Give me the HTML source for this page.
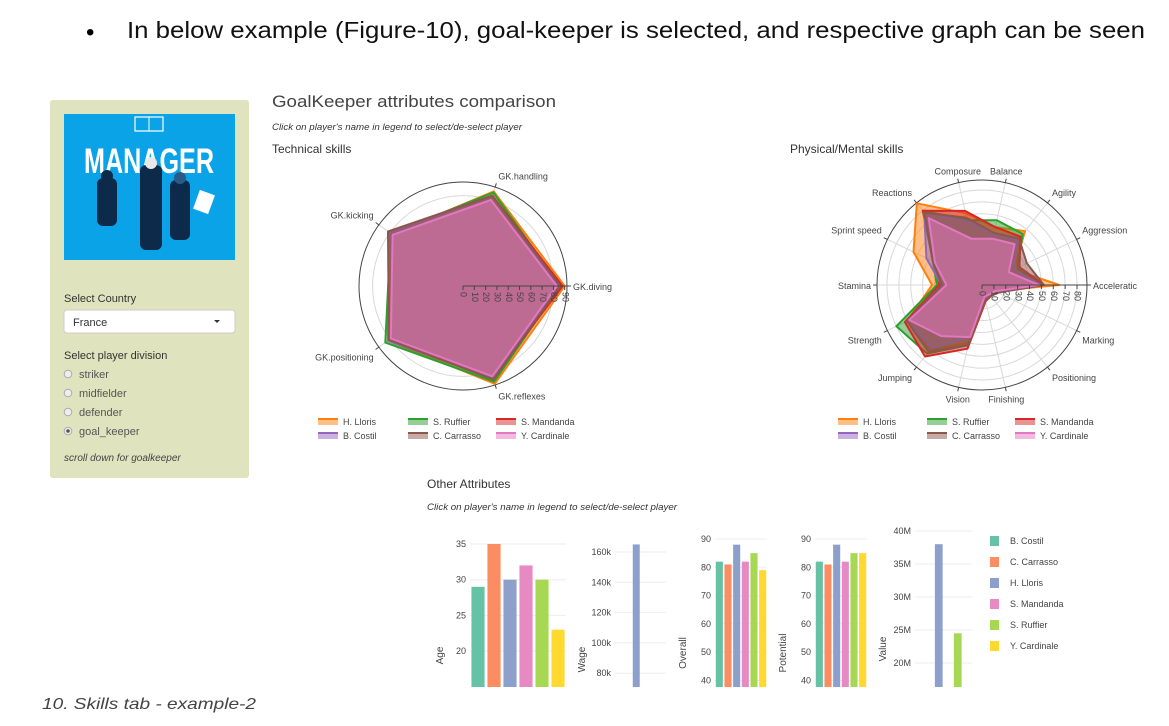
<!DOCTYPE html>
<html><head><meta charset="utf-8"><style>
html,body{margin:0;padding:0;background:#fff;}
svg{display:block;font-family:"Liberation Sans",sans-serif;}
</style></head><body>
<svg id="page" width="1169" height="726" viewBox="0 0 1169 726" xmlns="http://www.w3.org/2000/svg">
<text x="86" y="40" font-size="24" fill="#000">•</text>
<text x="127" y="38" font-size="23" fill="#111" textLength="1018" lengthAdjust="spacingAndGlyphs">In below example (Figure-10), goal-keeper is selected, and respective graph can be seen</text>

<g>
<rect x="50" y="100" width="199" height="378" rx="3" fill="#e0e4be"/>
<rect x="64" y="114" width="171" height="146" fill="#0aa3e8"/>
<rect x="135" y="117" width="28" height="14" fill="none" stroke="#fff" stroke-width="1.2"/>
<line x1="149" y1="117" x2="149" y2="131" stroke="#fff"/>
<text x="149" y="173" font-size="35" font-weight="bold" fill="#fff" text-anchor="middle" textLength="130" lengthAdjust="spacingAndGlyphs">MANAGER</text>
<g fill="#0d2a4a">
<rect x="97" y="178" width="20" height="48" rx="6"/><rect x="140" y="165" width="22" height="85" rx="6"/><rect x="170" y="180" width="20" height="60" rx="6"/>
<circle cx="107" cy="176" r="6"/><circle cx="151" cy="163" r="6" fill="#e8e8e8"/><circle cx="180" cy="178" r="6" fill="#2a5a8a"/>
</g>
<rect x="196" y="192" width="16" height="20" fill="#fff" transform="rotate(20 204 202)"/>
<text x="64" y="302" font-size="11" fill="#333">Select Country</text>
<rect x="64" y="310" width="171" height="23" rx="3" fill="#fff" stroke="#ccc"/>
<text x="73" y="326" font-size="11" fill="#333">France</text>
<path d="M214 320 l6 0 l-3 3 z" fill="#333"/>
<text x="64" y="359" font-size="11" fill="#333">Select player division</text>
<g font-size="11" fill="#555">
<circle cx="68" cy="374" r="3.8" fill="#eee" stroke="#aaa"/><text x="79" y="378">striker</text>
<circle cx="68" cy="393" r="3.8" fill="#eee" stroke="#aaa"/><text x="79" y="397">midfielder</text>
<circle cx="68" cy="412" r="3.8" fill="#eee" stroke="#aaa"/><text x="79" y="416">defender</text>
<circle cx="68" cy="431" r="3.8" fill="#eee" stroke="#aaa"/><circle cx="68" cy="431" r="1.8" fill="#555"/><text x="79" y="435">goal_keeper</text>
</g>
<text x="64" y="461" font-size="10" font-style="italic" fill="#444">scroll down for goalkeeper</text>
</g>

<text x="272" y="107" font-size="17" fill="#444" textLength="284" lengthAdjust="spacingAndGlyphs">GoalKeeper attributes comparison</text>
<text x="272" y="130" font-size="9" font-style="italic" fill="#333" textLength="250" lengthAdjust="spacingAndGlyphs">Click on player's name in legend to select/de-select player</text>
<text x="272" y="153" font-size="12" fill="#333">Technical skills</text>
<text x="790" y="153" font-size="12" fill="#333">Physical/Mental skills</text>
<text x="427" y="488" font-size="12" fill="#333">Other Attributes</text>
<text x="427" y="510" font-size="9" font-style="italic" fill="#333" textLength="250" lengthAdjust="spacingAndGlyphs">Click on player's name in legend to select/de-select player</text>
<text x="42" y="709" font-size="16" font-style="italic" fill="#444" textLength="214" lengthAdjust="spacingAndGlyphs">10. Skills tab - example-2</text>
<g id="charts"></g>
</svg>
<script>
const players = ["H. Lloris","S. Ruffier","S. Mandanda","B. Costil","C. Carrasso","Y. Cardinale"];
const playerColors = ["#ff7f0e","#2ca02c","#d62728","#9467bd","#8c564b","#e377c2"];
const techAxes = ["GK.diving","GK.handling","GK.kicking","GK.positioning","GK.reflexes"];
const techLloris = [90,88,78,82,91];
const techRuffier = [86,87,79,85,89];
const techMandanda = [88,84,80,82,86];
const techCostil = [84,84,80,82,86];
const techCarrasso = [86,84,82,81,87];
const techCardinale = [83,80,77,79,84];
const physAxes = ["Acceleratic","Aggression","Agility","Balance","Composure","Reactions","Sprint speed","Stamina","Strength","Jumping","Vision","Finishing","Positioning","Marking"];
const physLloris = [65,30,58,50,62,88,64,42,70,70,50,13,11,12];
const physRuffier = [50,33,55,56,56,80,46,38,80,74,52,12,12,14];
const physMandanda = [52,35,52,50,64,80,44,36,72,77,55,14,12,13];
const physCostil = [50,30,48,44,55,78,52,34,70,68,45,12,11,12];
const physCarrasso = [52,42,50,45,58,78,46,34,70,72,52,13,12,15];
const physCardinale = [48,25,44,40,40,72,44,30,68,55,45,10,10,12];
const barPlayers = ["B. Costil","C. Carrasso","H. Lloris","S. Mandanda","S. Ruffier","Y. Cardinale"];
const barColors = ["#66c2a5","#fc8d62","#8da0cb","#e78ac3","#a6d854","#ffd92f"];
const ageValues = [29,35,30,32,30,23];
const wageValues = [30000,20000,165000,50000,55000,5000];
const overallValues = [82,81,88,82,85,79];
const potentialValues = [82,81,88,82,85,85];
const valueValues = [10000000,3000000,38000000,9000000,24500000,1000000];
const ageTicks = [20,25,30,35];
const wageTicks = [80000,100000,120000,140000,160000];
const wageTickLabels = ["80k","100k","120k","140k","160k"];
const scoreTicks = [40,50,60,70,80,90];
const valueTicks = [20000000,25000000,30000000,35000000,40000000];
const valueTickLabels = ["20M","25M","30M","35M","40M"];

const NS="http://www.w3.org/2000/svg";
const root=document.getElementById('charts');
function mk(tag,attrs,parent){const e=document.createElementNS(NS,tag);for(const k in attrs)e.setAttribute(k,attrs[k]);(parent||root).appendChild(e);return e;}

function radar(cx,cy,R,rmax,axes,series,gridStep,tickMax,prefix){
  const g=mk('g',{});
  
  
  const n=axes.length;
  const rs=v=>v/rmax*R;
  const ang=i=>i*2*Math.PI/n;
  for(let v=gridStep;v<rmax;v+=gridStep){mk('circle',{cx,cy,r:rs(v),fill:'none',stroke:'#d8d8d8','stroke-width':1},g);}
  for(let i=0;i<n;i++){mk('line',{x1:cx,y1:cy,x2:cx+R*Math.cos(ang(i)),y2:cy-R*Math.sin(ang(i)),stroke:'#d8d8d8'},g);}
  mk('circle',{cx,cy,r:R,fill:'none',stroke:'#444','stroke-width':1},g);
  series.forEach((vals,s)=>{
    const pts=vals.map((v,i)=>(cx+rs(v)*Math.cos(ang(i))).toFixed(1)+','+(cy-rs(v)*Math.sin(ang(i))).toFixed(1)).join(' ');
    const p=mk('polygon',{points:pts,fill:playerColors[s],'fill-opacity':0.5,stroke:playerColors[s],'stroke-width':2,'stroke-linejoin':'round'},g);
    
    
  });
  mk('line',{x1:cx,y1:cy,x2:cx+R,y2:cy,stroke:'#444'},g);
  for(let v=0;v<=tickMax;v+=10){
    const x=cx+rs(v);
    mk('line',{x1:x,y1:cy,x2:x,y2:cy+4,stroke:'#444'},g);
    const t=mk('text',{x:x,y:cy+6,'font-size':9,fill:'#444',transform:'rotate(90 '+x+' '+(cy+6)+')','dominant-baseline':'middle'},g);
    t.textContent=v;
    
    
  }
  axes.forEach((a,i)=>{
    const c=Math.cos(ang(i)),s=Math.sin(ang(i));
    const x=cx+(R+4)*c,y=cy-(R+4)*s;
    mk('line',{x1:cx+R*c,y1:cy-R*s,x2:x,y2:y,stroke:'#444'},g);
    const anchor=Math.abs(c)<0.3?'middle':(c>0?'start':'end');
    const t=mk('text',{x:x+(anchor==='start'?2:anchor==='end'?-2:0),y:y+(s>0.3?-4:(s<-0.3?11:4)),'font-size':9,fill:'#444','text-anchor':anchor},g);
    t.textContent=a;
    
    
  });
}
radar(463,286,104,92,techAxes,[techLloris,techRuffier,techMandanda,techCostil,techCarrasso,techCardinale],20,90,'technical');
radar(982,285,105,88.4,physAxes,[physLloris,physRuffier,physMandanda,physCostil,physCarrasso,physCardinale],10,80,'physical');

function radarLegend(cols,rows){
  players.forEach((p,i)=>{
    const x=cols[i%3],y=rows[Math.floor(i/3)];
    const g=mk('g',{});
    
    
    mk('rect',{x:x,y:y-3,width:20,height:6,fill:playerColors[i],'fill-opacity':0.5},g);
    mk('line',{x1:x,y1:y-3,x2:x+20,y2:y-3,stroke:playerColors[i],'stroke-width':2},g);
    const t=mk('text',{x:x+25,y:y+3,'font-size':9,fill:'#444'},g);t.textContent=p;
  });
}
radarLegend([318,408,496],[422,436]);
radarLegend([838,927,1015],[422,436]);

function barPanel(name,x0,x1,refV,refY,ppu,bottom,ticks,labels,vals,title,titleX){
  const g=mk('g',{});
  
  
  const y=v=>refY-(v-refV)*ppu;
  ticks.forEach((t,i)=>{
    const yy=y(t);
    mk('line',{x1:x0,y1:yy,x2:x1,y2:yy,stroke:'#eee'},g);
    const tx=mk('text',{x:x0-4,y:yy+3,'font-size':9,fill:'#444','text-anchor':'end'},g);
    tx.textContent=labels[i];
  });
  const step=(x1-x0)/vals.length,w=step*0.82;
  vals.forEach((v,i)=>{
    const top=Math.max(y(v),refY-1000);
    if(top>=bottom)return;
    const r=mk('rect',{x:x0+i*step+(step-w)/2,y:top,width:w,height:bottom-top,fill:barColors[i]},g);
    
    
  });
  const tt=mk('text',{x:titleX,y:(bottom+refY)/2+40,'font-size':10,fill:'#444','text-anchor':'middle',transform:'rotate(-90 '+titleX+' '+((bottom+refY)/2+40)+')'},g);
  tt.textContent=title;
  
  
}
barPanel('age',470,566,35,544,7.14,687,ageTicks,ageTicks.map(String),ageValues,'Age',443);
barPanel('wage',615,666,160000,552,30.3/20000,687,wageTicks,wageTickLabels,wageValues,'Wage',585);
barPanel('overall',715,767,90,539,2.83,687,scoreTicks,scoreTicks.map(String),overallValues,'Overall',686);
barPanel('potential',815,867,90,539,2.83,687,scoreTicks,scoreTicks.map(String),potentialValues,'Potential',786);
barPanel('value',915,972,40000000,531,6.6e-6,687,valueTicks,valueTickLabels,valueValues,'Value',886);

barPlayers.forEach((p,i)=>{
  const y=541+i*21;
  const g=mk('g',{});
  
  
  mk('rect',{x:990,y:y-5,width:9,height:10,fill:barColors[i]},g);
  const t=mk('text',{x:1010,y:y+3,'font-size':9,fill:'#444'},g);t.textContent=p;
});
</script>
</body></html>
